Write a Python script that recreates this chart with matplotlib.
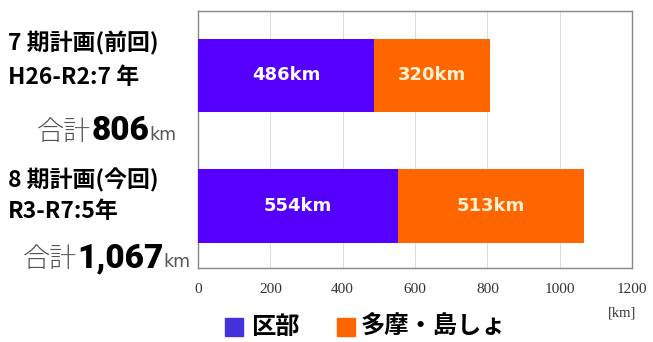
import matplotlib
matplotlib.use("Agg")
import matplotlib.pyplot as plt
from matplotlib.patches import Rectangle
import numpy as np

# Data
plans = ["7期", "8期"]
ku_km = [486, 554]
tama_km = [320, 513]
head_lines = [["7 期計画(前回)", "H26-R2:7 年"], ["8 期計画(今回)", "R3-R7:5年"]]
totals = ["806", "1,067"]
xticks = [0, 200, 400, 600, 800, 1000, 1200]

PURPLE = "#5500ff"
ORANGE = "#ff6600"
JP = ["Noto Sans CJK JP", "DejaVu Sans"]
W, H = 653, 342

fig = plt.figure(figsize=(6.53, 3.42), dpi=100)
ax = fig.add_axes([198 / W, 74 / H, 434 / W, 257 / H])

y = np.arange(len(plans))
ax.barh(y, ku_km, height=0.56, color=PURPLE, zorder=3)
ax.barh(y, tama_km, left=ku_km, height=0.56, color=ORANGE, zorder=3)

for i in range(len(plans)):
    ax.text(ku_km[i] / 2, y[i], f"{ku_km[i]}km", ha="center", va="center",
            color="white", fontsize=13, fontweight="bold", family="DejaVu Sans", zorder=4)
    ax.text(ku_km[i] + tama_km[i] / 2, y[i], f"{tama_km[i]}km", ha="center", va="center",
            color="#fff0d0", fontsize=13, fontweight="bold", family="DejaVu Sans", zorder=4)

ax.set_xlim(0, 1200)
ax.set_ylim(1.475, -0.494)
ax.set_yticks([])
ax.set_xticks(xticks)
ax.set_xticklabels([str(t) for t in xticks], family="Liberation Serif",
                   fontsize=11, color="#333333")
ax.tick_params(axis="x", length=0, pad=11)
ax.grid(axis="x", color="#dddddd", linewidth=0.8, zorder=0)
for s in ax.spines.values():
    s.set_color("#888888")
    s.set_linewidth(1.0)

# left hand labels
head_y = [[43, 77], [180, 212]]
for blk in range(2):
    for ln in range(2):
        fig.text(8 / W, 1 - head_y[blk][ln] / H, head_lines[blk][ln], family=JP,
                 fontsize=16.5, fontweight="bold", va="center", ha="left")

renderer = fig.canvas.get_renderer()


def total_label(x_px, y_px, num):
    parts = [("合計", 19.5, "light", "#555555", JP),
             (num, 24, "black", "black", "Roboto"),
             ("km", 12.5, "normal", "#555555", "DejaVu Sans")]
    x = x_px
    for txt, fs, fw, col, fam in parts:
        t = fig.text(x / W, 1 - y_px / H, txt, fontsize=fs, fontweight=fw,
                     color=col, family=fam, va="baseline", ha="left")
        bb = t.get_window_extent(renderer)
        x += bb.width


total_label(37, 140, totals[0])
total_label(23, 267, totals[1])

# legend
fig.patches.append(Rectangle((225 / W, 1 - 336 / H), 18 / W, 18 / H,
                             transform=fig.transFigure, color="#4433dd"))
fig.text(251 / W, 1 - 327 / H, "区部", color="black", fontsize=17.5, fontweight="bold",
         family=JP, va="center")
fig.patches.append(Rectangle((337 / W, 1 - 336 / H), 18 / W, 18 / H,
                             transform=fig.transFigure, color=ORANGE))
fig.text(361 / W, 1 - 327 / H, "多摩・島しょ", color="black", fontsize=17.5,
         fontweight="bold", family=JP, va="center")
fig.text(622 / W, 1 - 313 / H, "[km]", color="#333333", fontsize=10.5,
         family="Liberation Serif", ha="center", va="center")

fig.savefig("out.png", dpi=100)
